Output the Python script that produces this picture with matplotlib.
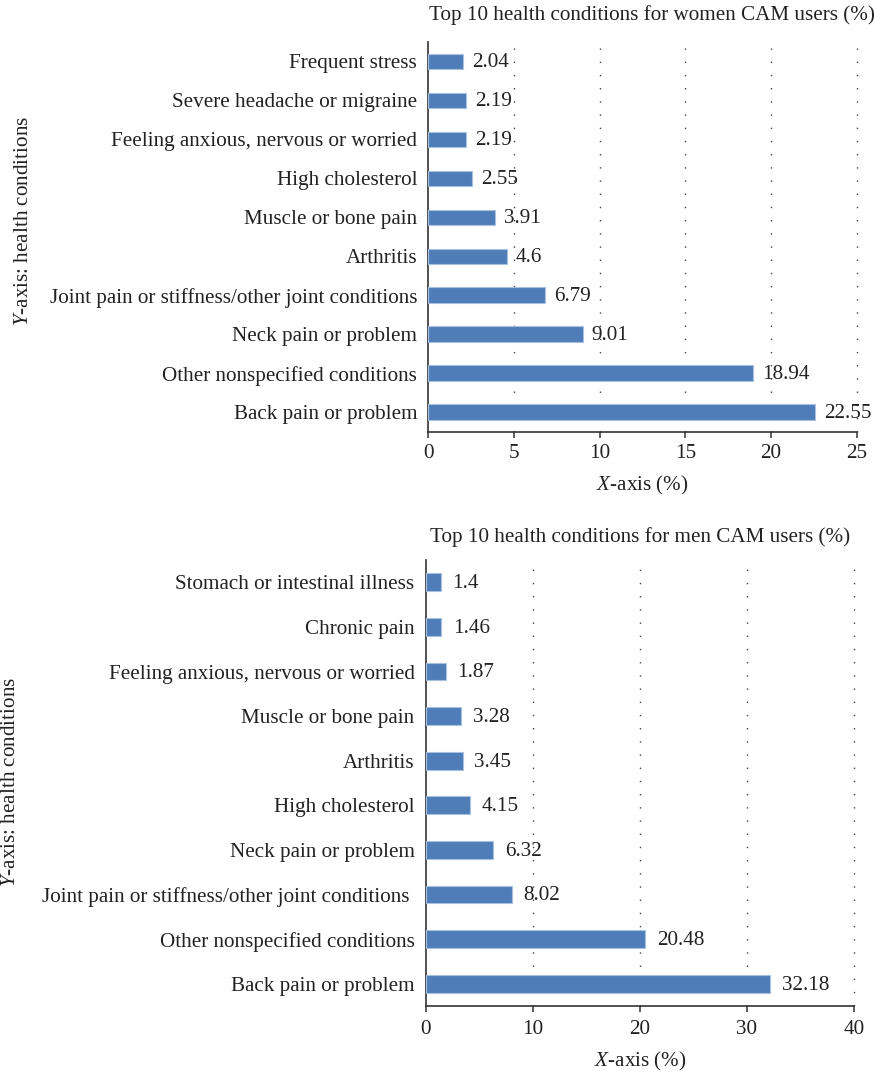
import matplotlib
matplotlib.use('Agg')
import matplotlib.pyplot as plt

plt.rcParams['font.family'] = ['Liberation Serif', 'DejaVu Serif']
plt.rcParams['mathtext.fontset'] = 'custom'
plt.rcParams['mathtext.it'] = 'Liberation Serif:italic'
plt.rcParams['mathtext.rm'] = 'Liberation Serif'

# women data (bottom -> top)
women_labels = ['Back pain or problem', 'Other nonspecified conditions', 'Neck pain or problem',
                'Joint pain or stiffness/other joint conditions', 'Arthritis', 'Muscle or bone pain',
                'High cholesterol', 'Feeling anxious, nervous or worried',
                'Severe headache or migraine', 'Frequent stress']
women_values = [22.55, 18.94, 9.01, 6.79, 4.6, 3.91, 2.55, 2.19, 2.19, 2.04]
women_ticks = [0, 5, 10, 15, 20, 25]

# men data (bottom -> top)
men_labels = ['Back pain or problem', 'Other nonspecified conditions',
              'Joint pain or stiffness/other joint conditions ', 'Neck pain or problem',
              'High cholesterol', 'Arthritis', 'Muscle or bone pain',
              'Feeling anxious, nervous or worried', 'Chronic pain', 'Stomach or intestinal illness']
men_values = [32.18, 20.48, 8.02, 6.32, 4.15, 3.45, 3.28, 1.87, 1.46, 1.4]
men_ticks = [0, 10, 20, 30, 40]

FS = 15.2
bar_color = '#4f7db8'
edge_color = '#a9c1e0'

fig = plt.figure(figsize=(8.74, 10.73), dpi=100)


def draw(ax, labels, values, ticks, offset, tpad, lpad):
    pos = range(len(values))
    ax.barh(pos, values, height=0.4, color=bar_color, edgecolor=edge_color, linewidth=0.8, zorder=3)
    for p, v in zip(pos, values):
        ax.annotate(str(v), (v, p), xytext=(offset, -1), textcoords='offset points',
                    ha='left', va='center', fontsize=FS, color='#222222', zorder=4)
    ax.set_yticks(list(pos))
    ax.set_yticklabels(labels, fontsize=FS, color='#222222')
    ax.set_xticks(ticks)
    ax.set_xticklabels([str(t) for t in ticks], fontsize=FS, color='#222222')
    ax.set_xlim(ticks[0], ticks[-1])
    ax.set_ylim(-0.5, 9.5)
    ax.tick_params(axis='y', length=0, pad=8)
    ax.tick_params(axis='x', length=4, width=1.1, color='#333333', pad=tpad, direction='out')
    for s in ['top', 'right']:
        ax.spines[s].set_visible(False)
    for s in ['left', 'bottom']:
        ax.spines[s].set_color('#333333')
        ax.spines[s].set_linewidth(1.2)
    for t in ticks[1:]:
        ax.axvline(t, color='#444444', linewidth=1.0, linestyle=(0, (1, 8.5)), zorder=1, clip_on=False)
    ax.set_xlabel('$\\mathit{X}$-axis (%)', fontsize=FS, color='#222222', labelpad=lpad)


ax1 = fig.add_axes([0.490, 0.5977, 0.4902, 0.3632])
draw(ax1, women_labels, women_values, women_ticks, 6.5, 5, 8)
fig.text(651.5 / 874, 1 - 15 / 1073, 'Top 10 health conditions for women CAM users (%)',
         ha='center', va='center', fontsize=FS, color='#222222')
fig.text(24 / 874, 1 - 221 / 1073, '$\\mathit{Y}$-axis: health conditions', rotation=90,
         ha='center', va='center', fontsize=FS, color='#222222')

ax2 = fig.add_axes([0.4871, 0.0624, 0.4900, 0.4157])
draw(ax2, men_labels, men_values, men_ticks, 8.5, 6, 8)
fig.text(640 / 874, 1 - 537 / 1073, 'Top 10 health conditions for men CAM users (%)',
         ha='center', va='center', fontsize=FS, color='#222222')
fig.text(11 / 874, 1 - 782 / 1073, '$\\mathit{Y}$-axis: health conditions', rotation=90,
         ha='center', va='center', fontsize=FS, color='#222222')

plt.savefig('out.png', dpi=100)
